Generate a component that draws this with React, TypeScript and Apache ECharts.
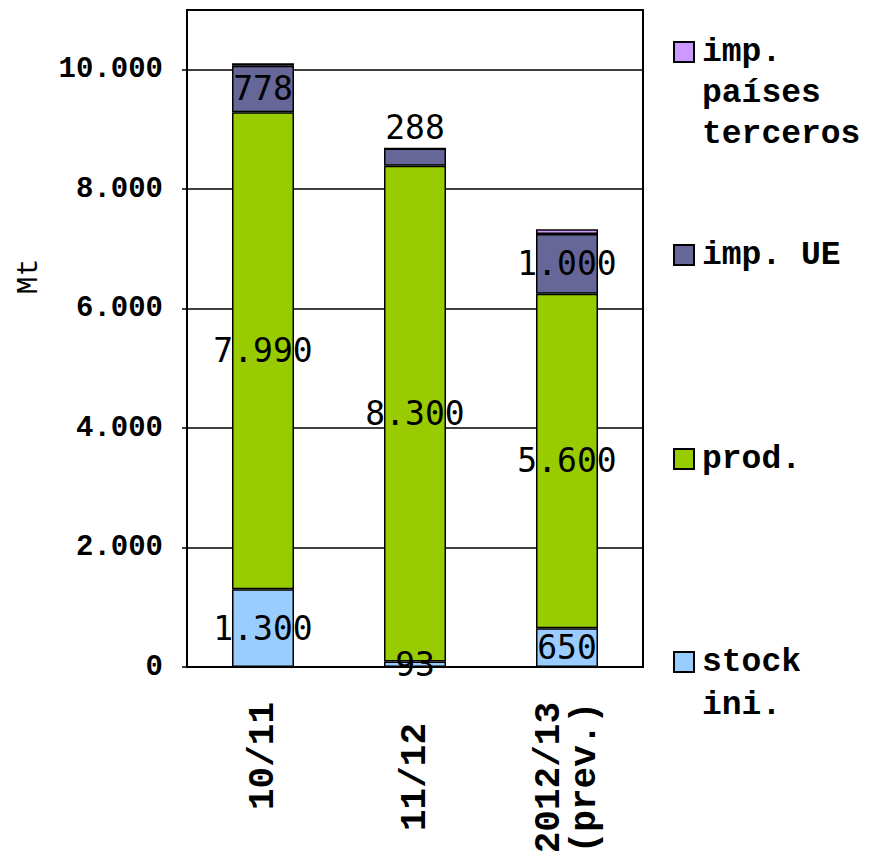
import React, { useEffect, useRef } from "react";
import * as echarts from "echarts";

const categories = ["10/11", "11/12", "2012/13\n(prev.)"];
const seriesNames = ["stock\nini.", "prod.", "imp. UE", "imp.\npaíses\nterceros"];
const stockIni = [1300, 93, 650];
const prod = [7990, 8300, 5600];
const impUE = [778, 288, 1000];
const impTerceros = [40, 0, 80];
const yTicks = { min: 0, max: 11000, interval: 2000 };
const yAxisName = "Mt";

const colors = ["#99CCFF", "#99CC00", "#666699", "#CC99FF"];

const fmt = (v: number) => String(v).replace(/\B(?=(\d{3})+(?!\d))/g, ".");

export default function App() {
  const ref = useRef<HTMLDivElement>(null);
  useEffect(() => {
    if (!ref.current) return;
    const chart = echarts.init(ref.current, null, { renderer: "svg" });
    const dataLabel = {
      show: true,
      position: "inside",
      fontFamily: "DejaVu Sans Mono",
      fontSize: 33,
      color: "#000",
      formatter: (p: any) => fmt(p.value),
    };
    const itemStyle = (c: string) => ({ color: c, borderColor: "#000", borderWidth: 1.5 });
    const legendText = {
      fontFamily: "Liberation Mono",
      fontWeight: "bold",
      fontSize: 33,
      color: "#000",
      padding: [0, 0, 0, 3],
    };
    // leading blank lines so the first text line sits level with the icon
    const legendFormatter = (name: string) => {
      const n = name.split("\n").length;
      return "\n".repeat(n - 1) + name;
    };
    const legendBase = {
      left: 673,
      padding: 0,
      itemWidth: 20,
      itemHeight: 20,
      icon: "rect",
      selectedMode: false,
      formatter: legendFormatter,
    };
    chart.setOption({
      animation: false,
      backgroundColor: "#fff",
      grid: {
        left: 187,
        top: 10,
        right: 227,
        bottom: 190,
        show: true,
        borderColor: "#000",
        borderWidth: 2,
        containLabel: false,
      },
      legend: [
        {
          ...legendBase,
          data: [seriesNames[3]],
          top: 52 - 2.5 * 41,
          textStyle: { ...legendText, lineHeight: 41 },
        },
        {
          ...legendBase,
          data: [seriesNames[2]],
          top: 255 - 0.5 * 41,
          textStyle: { ...legendText, lineHeight: 41 },
        },
        {
          ...legendBase,
          data: [seriesNames[1]],
          top: 459 - 0.5 * 41,
          textStyle: { ...legendText, lineHeight: 41 },
        },
        {
          ...legendBase,
          data: [seriesNames[0]],
          top: 662 - 1.5 * 43,
          textStyle: { ...legendText, lineHeight: 43 },
        },
      ],
      xAxis: {
        type: "category",
        data: categories.map((c, i) =>
          i === 1 ? { value: c, textStyle: { padding: [0, 21, 0, 0] } } : c
        ),
        axisLine: { show: true, lineStyle: { color: "#000", width: 2 } },
        axisTick: { show: false },
        axisLabel: {
          rotate: 90,
          margin: 35,
          interval: 0,
          fontFamily: "Liberation Mono",
          fontWeight: "bold",
          fontSize: 36,
          lineHeight: 36,
          color: "#000",
        },
      },
      yAxis: {
        type: "value",
        min: yTicks.min,
        max: yTicks.max,
        interval: yTicks.interval,
        name: yAxisName,
        nameLocation: "middle",
        nameRotate: 90,
        nameGap: 143,
        nameTextStyle: {
          fontFamily: "Liberation Mono",
          fontSize: 30,
          color: "#000",
          padding: [0, 0, 0, 124],
        },
        axisLine: { show: true, lineStyle: { color: "#000", width: 2 } },
        axisTick: { show: true, length: 5, lineStyle: { color: "#000", width: 1.5 } },
        splitLine: { show: true, lineStyle: { color: "#000", width: 1.5 } },
        axisLabel: {
          margin: 24,
          showMaxLabel: false,
          fontFamily: "Liberation Mono",
          fontWeight: "bold",
          fontSize: 29,
          color: "#000",
          formatter: (v: number) => fmt(v),
        },
      },
      series: [
        {
          name: seriesNames[0],
          type: "bar",
          stack: "total",
          barWidth: 62,
          data: stockIni,
          itemStyle: itemStyle(colors[0]),
          label: dataLabel,
        },
        {
          name: seriesNames[1],
          type: "bar",
          stack: "total",
          barWidth: 62,
          data: prod,
          itemStyle: itemStyle(colors[1]),
          label: dataLabel,
        },
        {
          name: seriesNames[2],
          type: "bar",
          stack: "total",
          barWidth: 62,
          data: impUE.map((v, i) => (i === 1 ? { value: v, label: { position: "top" } } : v)),
          itemStyle: itemStyle(colors[2]),
          label: dataLabel,
        },
        {
          name: seriesNames[3],
          type: "bar",
          stack: "total",
          barWidth: 62,
          data: impTerceros,
          itemStyle: itemStyle(colors[3]),
          label: { show: false },
        },
      ],
    });
    return () => chart.dispose();
  }, []);
  return <div ref={ref} style={{ width: 870, height: 857, position: "absolute", left: 0, top: 0 }} />;
}
